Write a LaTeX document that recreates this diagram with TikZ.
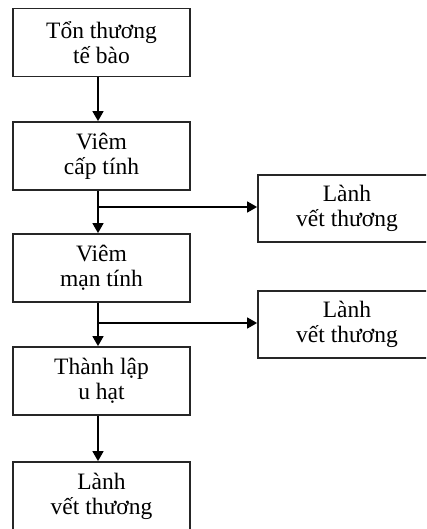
\documentclass[tikz,border=0pt]{standalone}
\usepackage{fontspec}
\setmainfont{Liberation Serif}
\usetikzlibrary{arrows.meta}
\begin{document}
\begin{tikzpicture}[x=1pt,y=-1pt,
  box/.style={draw=black!85,line width=1.8pt,rectangle,minimum width=177pt,minimum height=68pt,
    align=center,inner sep=0pt,font=\fontsize{23.5}{25}\selectfont},
  rbox/.style={box,minimum width=178pt,minimum height=67pt},
  conn/.style={line width=1.6pt,-{Triangle[width=11pt,length=10pt]}}]
\useasboundingbox (0,0) rectangle (426,529);
\clip (0,0) rectangle (426,529);
\node[box] (b1) at (101.5,42.5) {Tổn thương\\tế bào};
\node[box] (b2) at (101.5,156) {Viêm\\cấp tính};
\node[box] (b3) at (101.5,268) {Viêm\\mạn tính};
\node[box] (b4) at (101.5,381) {Thành lập\\u hạt};
\node[box] (b5) at (101.5,496) {Lành\\vết thương};
\node[rbox] (r1) at (347,208.5) {Lành\\vết thương};
\node[rbox] (r2) at (347,324.5) {Lành\\vết thương};
\coordinate (j1) at (98,207);
\coordinate (j2) at (98,323);
\draw[conn] ([xshift=-3.5pt]b1.south) -- ([xshift=-3.5pt]b2.north);
\draw[conn] ([xshift=-3.5pt]b2.south) -- ([xshift=-3.5pt]b3.north);
\draw[conn] ([xshift=-3.5pt]b3.south) -- ([xshift=-3.5pt]b4.north);
\draw[conn] ([xshift=-3.5pt]b4.south) -- ([xshift=-3.5pt]b5.north);
\draw[conn] (j1) -- (r1.west |- j1);
\draw[conn] (j2) -- (r2.west |- j2);
\end{tikzpicture}
\end{document}
